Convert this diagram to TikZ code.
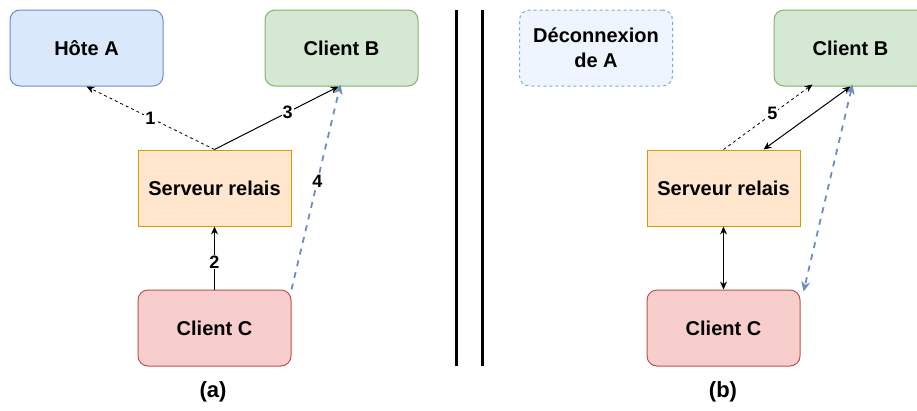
\documentclass[tikz,border=0pt]{standalone}
\usepackage{fontspec}
\setmainfont{Liberation Sans}
\usetikzlibrary{arrows.meta,calc}
\definecolor{bfill}{HTML}{DAE8FC}\definecolor{bstroke}{HTML}{6C8EBF}
\definecolor{gfill}{HTML}{D5E8D4}\definecolor{gstroke}{HTML}{82B366}
\definecolor{ofill}{HTML}{FFE6CC}\definecolor{ostroke}{HTML}{D79B00}
\definecolor{rfill}{HTML}{F8CECC}\definecolor{rstroke}{HTML}{B85450}
\definecolor{dfill}{HTML}{EEF5FE}\definecolor{dstroke}{HTML}{7EA6E0}
\definecolor{bluearrow}{HTML}{6C8EBF}
\tikzset{
  box/.style={rectangle, minimum width=153pt, minimum height=76pt, inner sep=0pt,
    line width=1pt, font=\fontsize{20}{25}\selectfont\bfseries, align=center},
  rbox/.style={box, rounded corners=10pt},
  lab/.style={fill=white, inner sep=1pt, font=\fontsize{18}{18}\selectfont\bfseries},
  tip/.style={-{Stealth[length=8pt,width=7pt]}},
  btip/.style={{Stealth[length=8pt,width=7pt]}-{Stealth[length=8pt,width=7pt]}},
  thin dash/.style={line width=0.8pt, dash pattern=on 3pt off 3pt},
  blue dash/.style={line width=1.8pt, draw=bluearrow, dash pattern=on 6pt off 6pt},
  sep/.style={line width=3pt},
  captxt/.style={font=\fontsize{22}{22}\selectfont\bfseries}
}
\begin{document}
\begin{tikzpicture}[x=1pt,y=-1pt]
\useasboundingbox (0,0) rectangle (917,410);
% panel (a)
\node[rbox, fill=bfill, draw=bstroke] (hoteA) at (86.5,48) {Hôte A};
\node[rbox, fill=gfill, draw=gstroke] (cliBa) at (341.5,48) {Client B};
\node[box, fill=ofill, draw=ostroke] (srvA) at (214.5,188) {Serveur relais};
\node[rbox, fill=rfill, draw=rstroke] (cliCa) at (214.5,328) {Client C};
\node[captxt] (capA) at (213,392) {(a)};
\draw[tip, thin dash] (srvA.north) -- (hoteA.south) node[lab, pos=0.5] {1};
\draw[tip, line width=1pt] (srvA.north) -- ([xshift=-3pt]cliBa.south) node[lab, pos=0.59] {3};
\draw[tip, line width=1pt] (cliCa.north) -- (srvA.south) node[lab, pos=0.44] {2};
\draw[blue dash, -{Stealth[length=10pt,width=9pt]}] (cliCa.north east) -- ([xshift=-1pt,yshift=2pt]cliBa.south) node[lab, pos=0.53] {4};
% separators
\coordinate (s1t) at (456,10); \coordinate (s1b) at (456,366);
\coordinate (s2t) at (482,10); \coordinate (s2b) at (482,366);
\draw[sep] (s1t) -- (s1b);
\draw[sep] (s2t) -- (s2b);
% panel (b)
\node[rbox, fill=dfill, draw=dstroke, dashed] (decA) at (596,48) {Déconnexion\\de A};
\node[rbox, fill=gfill, draw=gstroke] (cliBb) at (850.5,48) {Client B};
\node[box, fill=ofill, draw=ostroke] (srvB) at (723.5,188) {Serveur relais};
\node[rbox, fill=rfill, draw=rstroke] (cliCb) at (723.5,328) {Client C};
\node[captxt] (capB) at (723,392) {(b)};
\draw[tip, thin dash] (srvB.north) -- ([xshift=-38pt,yshift=2pt]cliBb.south) node[lab, pos=0.55] {5};
\draw[btip, line width=1pt] ([xshift=40pt]srvB.north) -- (cliBb.south);
\draw[btip, line width=1pt] (srvB.south) -- (cliCb.north);
\draw[blue dash, {Stealth[length=10pt,width=9pt]}-{Stealth[length=10pt,width=9pt]}] ([xshift=2pt,yshift=2pt]cliBb.south) -- ([xshift=3pt,yshift=-2pt]cliCb.north east);
\end{tikzpicture}
\end{document}
